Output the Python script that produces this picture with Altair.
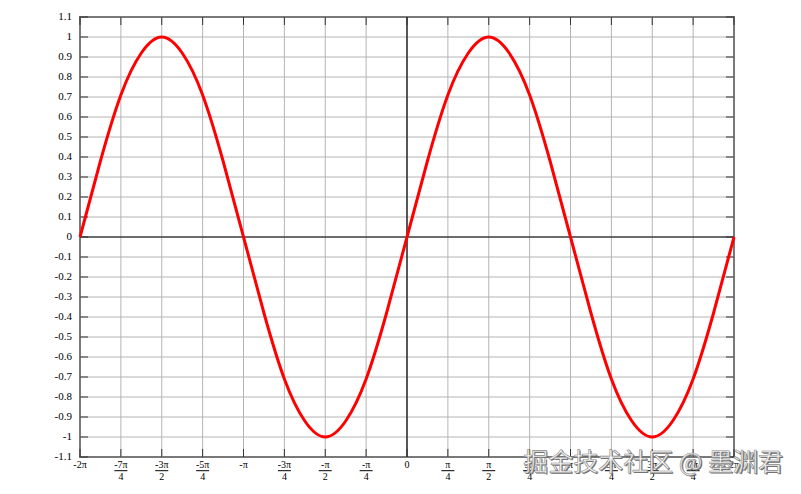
import altair as alt
import pandas as pd

# Curve samples (x in units of pi)
x_pi = [-2, -1.875, -1.75, -1.625, -1.5, -1.375, -1.25, -1.125, -1,
        -0.875, -0.75, -0.625, -0.5, -0.375, -0.25, -0.125, 0,
        0.125, 0.25, 0.375, 0.5, 0.625, 0.75, 0.875, 1,
        1.125, 1.25, 1.375, 1.5, 1.625, 1.75, 1.875, 2]
y_val = [0, 0.38, 0.71, 0.92, 1, 0.92, 0.71, 0.38, 0,
         -0.38, -0.71, -0.92, -1, -0.92, -0.71, -0.38, 0,
         0.38, 0.71, 0.92, 1, 0.92, 0.71, 0.38, 0,
         -0.38, -0.71, -0.92, -1, -0.92, -0.71, -0.38, 0]

# X tick positions (units of pi) and fraction labels
x_ticks = [-2, -1.75, -1.5, -1.25, -1, -0.75, -0.5, -0.25, 0,
           0.25, 0.5, 0.75, 1, 1.25, 1.5, 1.75, 2]
x_num = ["-2π", "-7π", "-3π", "-5π", "-π", "-3π", "-π", "-π", "0",
         "π", "π", "3π", "π", "5π", "3π", "7π", "2π"]
x_den = ["", "4", "2", "4", "", "4", "2", "4", "",
         "4", "2", "4", "", "4", "2", "4", ""]

# Y ticks
y_ticks = [1.1, 1.0, 0.9, 0.8, 0.7, 0.6, 0.5, 0.4, 0.3, 0.2, 0.1, 0,
           -0.1, -0.2, -0.3, -0.4, -0.5, -0.6, -0.7, -0.8, -0.9, -1.0, -1.1]
y_labels = ["1.1", "1", "0.9", "0.8", "0.7", "0.6", "0.5", "0.4", "0.3", "0.2",
            "0.1", "0", "-0.1", "-0.2", "-0.3", "-0.4", "-0.5", "-0.6", "-0.7",
            "-0.8", "-0.9", "-1", "-1.1"]

watermark = "掘金技术社区 @ 墨渊君"

W, H = 654, 440
FONT = "Liberation Serif"
GRID = "#b4b4b4"

curve_df = pd.DataFrame({"x": x_pi, "y": y_val})
xt_df = pd.DataFrame({"x": x_ticks, "num": x_num, "den": x_den})
whole_df = xt_df[xt_df["den"] == ""].reset_index(drop=True)
frac_df = xt_df[xt_df["den"] != ""].reset_index(drop=True)
yt_df = pd.DataFrame({"y": y_ticks, "lab": y_labels})
zero_df = pd.DataFrame({"v": [0.0]})
wm_df = pd.DataFrame({"t": [watermark]})

xs = alt.Scale(domain=[-2, 2], nice=False, zero=False)
ys = alt.Scale(domain=[-1.1, 1.1], nice=False, zero=False)


def X(f):
    return alt.X(f, type="quantitative", scale=xs, axis=None)


def Y(f):
    return alt.Y(f, type="quantitative", scale=ys, axis=None)


# grid lines
grid_h = alt.Chart(yt_df).mark_rule(color=GRID, strokeWidth=1).encode(
    y=Y("y"), x=alt.value(0), x2=alt.value(W))
grid_v = alt.Chart(xt_df).mark_rule(color=GRID, strokeWidth=1).encode(
    x=X("x"), y=alt.value(0), y2=alt.value(H))

curve = alt.Chart(curve_df).mark_line(color="#ff0000", strokeWidth=3,
                                      interpolate="natural").encode(
    x=X("x"), y=Y("y"))

zero_h = alt.Chart(zero_df).mark_rule(color="black", strokeWidth=1.2).encode(
    y=Y("v"), x=alt.value(0), x2=alt.value(W))
zero_v = alt.Chart(zero_df).mark_rule(color="black", strokeWidth=1.2).encode(
    x=X("v"), y=alt.value(0), y2=alt.value(H))

tk = dict(color="#333333", strokeWidth=1)
ytick_l = alt.Chart(yt_df).mark_rule(**tk).encode(
    y=Y("y"), x=alt.value(0), x2=alt.value(8))
ytick_r = alt.Chart(yt_df).mark_rule(**tk).encode(
    y=Y("y"), x=alt.value(W - 8), x2=alt.value(W))
xtick_b = alt.Chart(xt_df).mark_rule(**tk).encode(
    x=X("x"), y=alt.value(H - 8), y2=alt.value(H))
xtick_t = alt.Chart(xt_df).mark_rule(**tk).encode(
    x=X("x"), y=alt.value(0), y2=alt.value(8))

ylab = alt.Chart(yt_df).mark_text(font=FONT, fontSize=11, color="black",
                                  align="right", baseline="middle").encode(
    y=Y("y"), x=alt.value(-8), text="lab:N")

lab = dict(font=FONT, fontSize=10, color="black", baseline="middle", align="center")
whole_lab = alt.Chart(whole_df).mark_text(**lab).encode(
    x=X("x"), y=alt.value(H + 7.5), text="num:N")
num_lab = alt.Chart(frac_df).mark_text(**lab).encode(
    x=X("x"), y=alt.value(H + 7.5), text="num:N")
bar = alt.Chart(frac_df).mark_rule(color="black", strokeWidth=1,
                                   xOffset=-6.5, x2Offset=6.5).encode(
    x=X("x"), x2=alt.X2("x"), y=alt.value(H + 13.7))
den_lab = alt.Chart(frac_df).mark_text(**lab).encode(
    x=X("x"), y=alt.value(H + 19.7), text="den:N")

wm_shadow = alt.Chart(wm_df).mark_text(
    font="Noto Sans CJK SC", fontSize=25, align="right", baseline="middle",
    color="#6a6a6a", dx=1.2, dy=1.2).encode(
    x=alt.value(703), y=alt.value(446), text="t:N")
wm = alt.Chart(wm_df).mark_text(
    font="Noto Sans CJK SC", fontSize=25, align="right", baseline="middle",
    color="#f6f6f6", stroke="#8a8a8a", strokeWidth=0.6).encode(
    x=alt.value(703), y=alt.value(446), text="t:N")

chart = alt.layer(
    grid_h, grid_v, zero_h, zero_v, ytick_l, ytick_r, xtick_b, xtick_t,
    ylab, whole_lab, num_lab, bar, den_lab, curve, wm_shadow, wm
).resolve_scale(x="shared", y="shared").properties(
    width=W, height=H,
    autosize=alt.AutoSizeParams(type="none"),
    padding={"left": 72, "top": 9, "right": 59, "bottom": 29},
    background="white",
).configure_view(stroke="black", strokeWidth=1.5)

chart.save("out.html", embed_options={"renderer": "svg", "actions": False})
